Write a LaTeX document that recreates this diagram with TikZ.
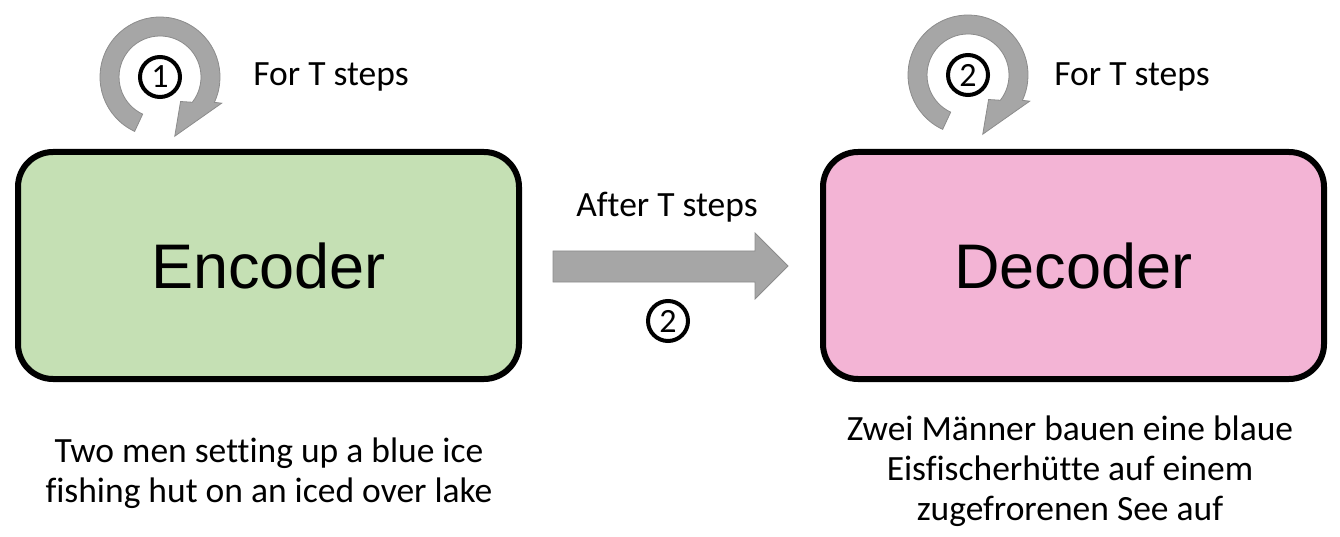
\documentclass[tikz,border=0pt]{standalone}
\usepackage{fontspec}
\setmainfont{Carlito}[Ligatures=NoCommon]
\newfontfamily\boxfont{Liberation Sans}
\definecolor{encgreen}{HTML}{C5E0B4}
\definecolor{decpink}{HTML}{F3B4D5}
\definecolor{loopgray}{HTML}{A6A6A6}
\definecolor{loopedge}{HTML}{8C8C8C}
\begin{document}
\begin{tikzpicture}[x=1pt,y=-1pt]
\tikzstyle{block}=[draw,line width=6pt,rounded corners=35pt,minimum width=501pt,minimum height=227pt,font=\boxfont\fontsize{63}{70}\selectfont]
\tikzstyle{lbl}=[font=\fontsize{35.5}{40}\selectfont,inner sep=0pt]
\tikzstyle{num}=[draw,circle,line width=4pt,minimum size=40pt,inner sep=0pt,font=\fontsize{34}{36}\selectfont]
\tikzstyle{bigarrow}=[fill=loopgray,draw=loopedge,line width=0.8pt]
\useasboundingbox (0,0) rectangle (1340,537);
\node[block,fill=encgreen] (enc) at (268.5,265.5) {Encoder};
\node[block,fill=decpink] (dec) at (1073.5,265.5) {Decoder};
\foreach \cx/\cy/\n in {160/77/1,968/75/2}{
  \begin{scope}[shift={(\cx,\cy)}]
  \filldraw[bigarrow] (115:60) arc[start angle=115,end angle=385,radius=60] -- (383:67) -- (436:61) -- (410:32) -- (398:41) arc[start angle=398,end angle=115,radius=41] -- cycle;
  \node[num] (loop\n) at (0,0) {\n};
  \end{scope}
}
\node[lbl,anchor=base] (forenc) at (331,86) {For T steps};
\node[lbl,anchor=base] (fordec) at (1132,86) {For T steps};
\filldraw[bigarrow] (553,251) -- (755,251) -- (755,233) -- (788,266) -- (755,299) -- (755,282) -- (553,282) -- cycle;
\node[lbl,anchor=base] (after) at (667,217) {After T steps};
\node[num] (mid) at (668,321) {2};
\node[lbl,align=center] (srcsent) at (269,473) {Two men setting up a blue ice\\fishing hut on an iced over lake};
\node[lbl,align=center] (tgtsent) at (1070,471) {Zwei Männer bauen eine blaue\\Eisfischerhütte auf einem\\zugefrorenen See auf};
\end{tikzpicture}
\end{document}
